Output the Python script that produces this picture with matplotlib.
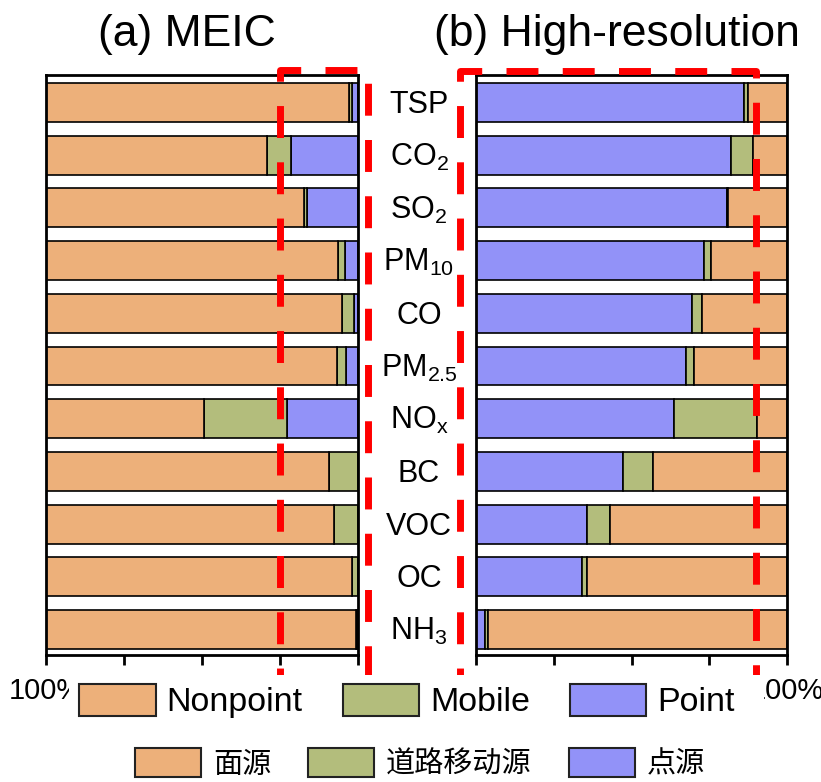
import matplotlib
matplotlib.use('Agg')
import matplotlib.pyplot as plt
import matplotlib.transforms as mtransforms
from matplotlib.lines import Line2D
from matplotlib.patches import Patch, Rectangle
import numpy as np

# species (top to bottom)
species = ['TSP', 'CO$_2$', 'SO$_2$', 'PM$_{10}$', 'CO', 'PM$_{2.5}$',
           'NO$_x$', 'BC', 'VOC', 'OC', 'NH$_3$']

# (a) MEIC shares (%)
meic_nonpoint = [97.1, 70.9, 82.8, 93.5, 95.0, 93.4, 50.7, 90.7, 92.4, 98.2, 99.3]
meic_mobile = [1.1, 7.5, 1.0, 2.3, 3.7, 2.8, 26.4, 9.3, 7.6, 1.8, 0.4]
meic_point = [1.8, 21.6, 16.2, 4.2, 1.3, 3.8, 22.9, 0.0, 0.0, 0.0, 0.3]

# (b) High-resolution shares (%)
hr_nonpoint = [12.6, 10.8, 18.9, 24.4, 27.2, 29.9, 9.7, 43.2, 56.9, 64.2, 96.0]
hr_mobile = [1.1, 7.2, 0.5, 2.3, 3.2, 2.6, 26.5, 9.4, 7.5, 1.8, 1.1]
hr_point = [86.3, 82.0, 80.6, 73.3, 69.6, 67.5, 63.8, 47.4, 35.6, 34.0, 2.9]

x_ticks = [0, 25, 50, 75, 100]
x_ticklabels = ['0%', '25%', '50%', '75%', '100%']

labels_en = ['Nonpoint', 'Mobile', 'Point']
labels_cn = ['面源', '道路移动源', '点源']

C_NONPOINT = '#EDB07A'
C_MOBILE = '#B3BD7C'
C_POINT = '#9292F8'

plt.rcParams['font.family'] = ['Liberation Sans', 'Noto Sans CJK SC', 'DejaVu Sans']
plt.rcParams['mathtext.fontset'] = 'custom'
plt.rcParams['mathtext.rm'] = 'Liberation Sans'
plt.rcParams['mathtext.default'] = 'regular'

W, H = 821, 782


def fx(px):
    return px / W


def fy(py):
    return 1 - py / H


fig = plt.figure(figsize=(W / 100, H / 100), dpi=100, facecolor='white')
ax1 = fig.add_axes([fx(46), fy(655), (358 - 46) / W, (655 - 75) / H])
ax2 = fig.add_axes([fx(476), fy(655), (787 - 476) / W, (655 - 75) / H])

y = np.arange(len(species))
bh = 0.74
kw = dict(height=bh, edgecolor='black', linewidth=1.2)


def stack(ax, pt, mob, nonp):
    pt = np.array(pt)
    mob = np.array(mob)
    nonp = np.array(nonp)
    ax.barh(y, pt, left=0, color=C_POINT, **kw)
    ax.barh(y, mob, left=pt, color=C_MOBILE, **kw)
    ax.barh(y, nonp, left=pt + mob, color=C_NONPOINT, **kw)


stack(ax1, meic_point, meic_mobile, meic_nonpoint)
stack(ax2, hr_point, hr_mobile, hr_nonpoint)

ax1.set_xlim(100, 0)
ax2.set_xlim(0, 100)
for ax in (ax1, ax2):
    ax.set_ylim(10.484, -0.522)
    ax.set_yticks([])
    ax.set_xticks(x_ticks)
    ax.set_xticklabels(x_ticklabels)
    ax.tick_params(axis='x', direction='out', length=7, width=2, labelsize=21, pad=9)
    for s in ax.spines.values():
        s.set_linewidth(2)
    ax.set_facecolor('white')

# species labels between the panels
trans = mtransforms.blended_transform_factory(fig.transFigure, ax1.transData)
for i, name in enumerate(species):
    fig.text(fx(419), y[i] + 0.2, name, transform=trans, ha='center',
             va='baseline', fontsize=22)

# panel titles
fig.text(fx(187), fy(46), '(a) MEIC', ha='center', va='baseline', fontsize=32)
fig.text(fx(617), fy(46), '(b) High-resolution', ha='center', va='baseline', fontsize=32)

# red dashed boxes
dash = (0, (4.6, 3.5))
box_a = Line2D([fx(280), fx(280), fx(368), fx(368)], [fy(700), fy(70), fy(70), fy(700)],
               transform=fig.transFigure, color='red', lw=5, linestyle=dash, zorder=2)
box_b = Line2D([fx(460), fx(460), fx(756), fx(756)], [fy(700), fy(71), fy(71), fy(700)],
               transform=fig.transFigure, color='red', lw=5, linestyle=dash, zorder=2)
fig.add_artist(box_a)
fig.add_artist(box_b)

# white block behind the legend (hides most of the tick labels)
fig.add_artist(Rectangle((fx(69), fy(728)), (764 - 69) / W, (728 - 675) / H,
                         transform=fig.transFigure, facecolor='white',
                         edgecolor='none', zorder=3))

cols = [C_NONPOINT, C_MOBILE, C_POINT]
h_en = [Patch(facecolor=c, edgecolor='#222222', lw=1.5) for c in cols]
h_cn = [Patch(facecolor=c, edgecolor='#222222', lw=1.5) for c in cols]

leg1 = fig.legend(h_en, labels_en, loc='center', bbox_to_anchor=(fx(407), fy(701)),
                  ncol=3, frameon=False, fontsize=24.5, handlelength=2.24,
                  handleheight=1.06, handletextpad=0.32, columnspacing=1.18,
                  borderpad=0, borderaxespad=0)
leg1.set_zorder(5)
leg2 = fig.legend(h_cn, labels_cn, loc='center', bbox_to_anchor=(fx(420), fy(764)),
                  ncol=3, frameon=False, prop={'family': ['Noto Sans CJK SC'], 'size': 21},
                  handlelength=2.26, handleheight=1.13, handletextpad=0.41,
                  columnspacing=1.27, borderpad=0, borderaxespad=0)
leg2.set_zorder(5)

fig.savefig('out.png', dpi=100, facecolor='white')
